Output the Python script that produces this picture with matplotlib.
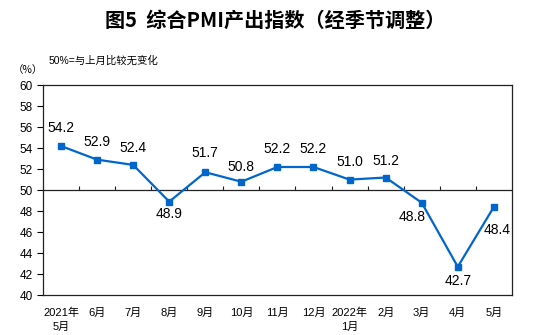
import numpy as np
import matplotlib.pyplot as plt

plt.rcParams['font.family'] = ['Liberation Sans', 'Noto Sans CJK SC', 'DejaVu Sans']

months = ['2021年\n5月', '6月', '7月', '8月', '9月', '10月', '11月', '12月',
          '2022年\n1月', '2月', '3月', '4月', '5月']
pmi = [54.2, 52.9, 52.4, 48.9, 51.7, 50.8, 52.2, 52.2, 51.0, 51.2, 48.8, 42.7, 48.4]
# label offsets in pixels (dx, dy)
label_off = [(0, 18), (0, 18), (0, 17), (0, -12), (0, 19), (0, 15), (0, 18), (0, 18),
             (0, 18), (0, 17), (-10, -14), (0, -14), (3, -23)]

fig = plt.figure(figsize=(5.51, 3.35), dpi=100)
ax = fig.add_axes([0.078, 0.119, 0.851, 0.627])

x = np.arange(len(pmi))
ax.plot(x, pmi, color='#0066CC', lw=1.6, marker='s', ms=4.5, zorder=3)
for xi, v, (dx, dy) in zip(x, pmi, label_off):
    ax.annotate(f'{v:.1f}', (xi, v), xytext=(dx, dy), textcoords='offset pixels',
                ha='center', va='center', fontsize=10)

ax.set_xlim(-0.5, len(pmi) - 0.5)
ax.set_ylim(40, 60)
ax.set_yticks(np.arange(40, 61, 2))
ax.tick_params(axis='y', direction='out', length=4, labelsize=8.5, width=0.8)
ax.set_xticks(x)
ax.set_xticklabels(months, fontsize=8)
ax.tick_params(axis='x', length=0, pad=9)
for lbl in ax.get_xticklabels():
    lbl.set_linespacing(1.5)

# 50 line with category-boundary ticks
ax.axhline(50, color='#222222', lw=0.9)
ax.vlines(np.arange(0.5, len(pmi) - 0.5, 1), 50, 50.4, color='#222222', lw=0.8)

for s in ax.spines.values():
    s.set_color('#222222')
    s.set_linewidth(0.9)

fig.text(0.5, 0.94, '图5  综合PMI产出指数（经季节调整）', ha='center', va='center',
         fontsize=14.5, fontweight='bold', family=['Noto Sans CJK SC', 'DejaVu Sans'])
fig.text(0.088, 0.82, '50%=与上月比较无变化', ha='left', va='center', fontsize=7.5)
fig.text(0.024, 0.79, '（%）', ha='left', va='center', fontsize=7.5,
         family=['Noto Sans CJK SC', 'DejaVu Sans'])

fig.savefig('out.png', dpi=100)
